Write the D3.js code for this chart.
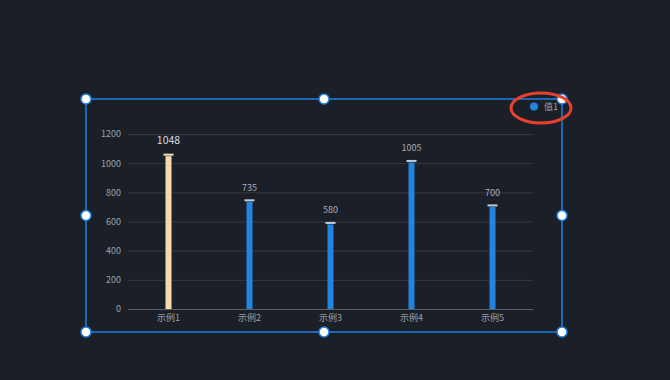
<!DOCTYPE html>
<html><head><meta charset="utf-8">
<script src="https://cdn.jsdelivr.net/npm/d3@7"></script>
<style>html,body{margin:0;padding:0;background:#1b2028;overflow:hidden}</style>
</head><body>
<svg id="c" width="670" height="380"></svg>
<script>
const categories = ["示例1","示例2","示例3","示例4","示例5"];
const values = [1048, 735, 580, 1005, 700];
const yTicks = [0, 200, 400, 600, 800, 1000, 1200];
const seriesName = "值1";
const highlightIndex = 0;

const svg = d3.select("#c");
const W = 670, H = 380;
svg.append("rect").attr("width", W).attr("height", H).attr("fill", "#1b2028");

const font = "'Microsoft YaHei','Noto Sans CJK SC',sans-serif";
const m = {left: 128, right: 533, top: 134, bottom: 309};
const x = d3.scaleBand().domain(categories).range([m.left, m.right]);
const y = d3.scaleLinear().domain([0, 1200]).range([m.bottom, m.top]);

// grid
svg.append("g").selectAll("line").data(yTicks.slice(1)).join("line")
  .attr("x1", m.left).attr("x2", m.right)
  .attr("y1", d => y(d) + 0.5).attr("y2", d => y(d) + 0.5)
  .attr("stroke", "#343944").attr("stroke-width", 1);

// y axis labels
const yAxis = d3.axisLeft(y).tickValues(yTicks).tickFormat(d3.format("d")).tickSize(0).tickPadding(7);
const gy = svg.append("g").attr("transform", `translate(${m.left},0)`).call(yAxis);
gy.select(".domain").remove();
gy.selectAll("text").attr("fill", "#9aa0aa").attr("font-size", 9).attr("font-family", font);

// x axis
const xAxis = d3.axisBottom(x).tickSize(0).tickPadding(6);
const gx = svg.append("g").attr("transform", `translate(0,${m.bottom})`).call(xAxis);
gx.select(".domain").attr("stroke", "#5a5f6a").attr("stroke-width", 1).attr("d", `M${m.left},0.5H${m.right}`);
gx.selectAll("text").attr("fill", "#9aa0aa").attr("font-size", 9).attr("font-family", font);

const bw = 6, cw = 10;
const data = categories.map((c, i) => ({c, v: values[i], i}));
// bars
svg.append("g").selectAll("rect").data(data).join("rect")
  .attr("x", d => x(d.c) + x.bandwidth()/2 - bw/2)
  .attr("width", bw)
  .attr("y", d => y(d.v))
  .attr("height", d => y(0) - y(d.v))
  .attr("fill", d => d.i === highlightIndex ? "#f8d9ae" : "#2284dc");
// caps
svg.append("g").selectAll("rect").data(data).join("rect")
  .attr("x", d => x(d.c) + x.bandwidth()/2 - cw/2)
  .attr("width", cw)
  .attr("y", d => y(d.v) - 2.5)
  .attr("height", 2)
  .attr("fill", d => d.i === highlightIndex ? "#f3e0c4" : "#c3cdd9");
// labels
svg.append("g").selectAll("text").data(data).join("text")
  .attr("x", d => x(d.c) + x.bandwidth()/2)
  .attr("y", d => y(d.v) - (d.i === highlightIndex ? 12 : 11))
  .attr("text-anchor", "middle")
  .attr("font-family", font)
  .attr("font-size", d => d.i === highlightIndex ? 10.5 : 9)
  .attr("fill", d => d.i === highlightIndex ? "#d8dbe0" : "#a8adb6")
  .text(d => d.v);

// legend
svg.append("circle").attr("cx", 534).attr("cy", 106.5).attr("r", 4).attr("fill", "#2284dc");
svg.append("text").attr("x", 544).attr("y", 109.5).attr("font-size", 9).attr("font-family", font)
  .attr("fill", "#9aa0aa").text(seriesName);

// selection box
const bx = {l: 86, r: 562, t: 99, b: 332};
svg.append("rect").attr("x", bx.l).attr("y", bx.t).attr("width", bx.r - bx.l).attr("height", bx.b - bx.t)
  .attr("fill", "none").attr("stroke", "#1f7fe3").attr("stroke-width", 1.5);
const mx = (bx.l + bx.r)/2, my = (bx.t + bx.b)/2;
const handles = [[bx.l,bx.t],[mx,bx.t],[bx.r,bx.t],[bx.l,my],[bx.r,my],[bx.l,bx.b],[mx,bx.b],[bx.r,bx.b]];
svg.append("g").selectAll("circle").data(handles).join("circle")
  .attr("cx", d => d[0]).attr("cy", d => d[1]).attr("r", 5)
  .attr("fill", "#ffffff").attr("stroke", "#1f7fe3").attr("stroke-width", 1.5);

// red ellipse annotation
svg.append("ellipse").attr("cx", 541).attr("cy", 108).attr("rx", 30).attr("ry", 15)
  .attr("fill", "none").attr("stroke", "#e8402e").attr("stroke-width", 3);
</script>
</body></html>
